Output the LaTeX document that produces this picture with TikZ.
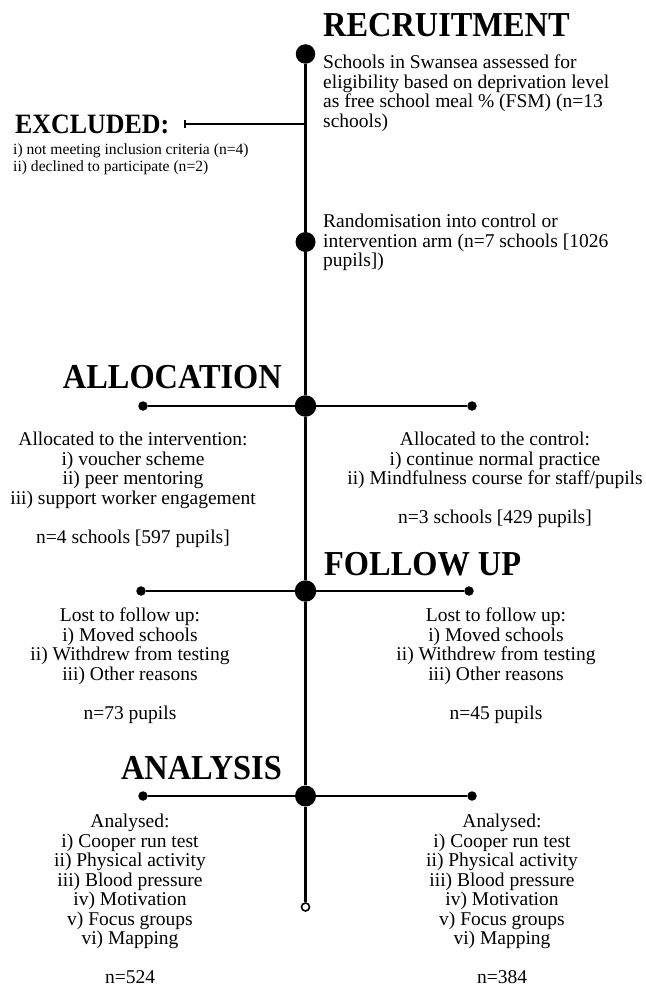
\documentclass[tikz,border=0pt]{standalone}
\usepackage{fontspec}
\setmainfont{Liberation Serif}
\newfontfamily\headfont[FakeStretch=0.925]{Liberation Serif Bold}
\begin{document}
\begin{tikzpicture}[x=1pt,y=-1pt,
  stage/.style={font=\headfont\fontsize{35}{35}\selectfont, inner sep=0pt},
  body/.style={font=\fontsize{19.5}{19.5}\selectfont, inner sep=0pt},
  smallbody/.style={font=\fontsize{15.6}{17}\selectfont, inner sep=0pt, align=left},
  bigdot/.style={circle, fill=black, inner sep=0pt, minimum size=21.5pt},
  enddot/.style={circle, fill=black, inner sep=0pt, minimum size=9.5pt},
  opendot/.style={circle, draw=black, fill=white, line width=1.6pt, inner sep=0pt, minimum size=8pt},
  trunk/.style={line width=2.5pt},
  branch/.style={line width=2.5pt}]
\useasboundingbox (0,0) rectangle (645,987);

% timeline dots
\node[bigdot, minimum size=19.5pt] (rec) at (305.5,54) {};
\node[bigdot, minimum size=20pt] (rand) at (305.5,242) {};
\node[bigdot] (alloc) at (305.5,406) {};
\node[bigdot] (follow) at (305.5,591) {};
\node[bigdot, minimum size=21pt] (anal) at (305.5,796) {};
\node[opendot] (stop) at (305.5,907) {};
\coordinate (excl) at (305.5,124);

% side ends of the branches
\node[enddot] (allocL) at (143,406) {};
\node[enddot] (allocR) at (472,406) {};
\node[enddot] (followL) at (141,591) {};
\node[enddot] (followR) at (469,591) {};
\node[enddot] (analL) at (143,796) {};
\node[enddot] (analR) at (472,796) {};
\coordinate (exclEnd) at (185,124);

% trunk
\draw[trunk] (rec) -- (rand) -- (alloc) -- (follow) -- (anal) -- (stop);
% branches
\draw[branch] (excl) -- (exclEnd);
\draw[line width=1.8pt] ([yshift=-4pt]exclEnd) -- ([yshift=4pt]exclEnd);
\draw[branch] (allocL) -- (alloc) -- (allocR);
\draw[branch] (followL) -- (follow) -- (followR);
\draw[branch] (analL) -- (anal) -- (analR);

% stage headings
\node[stage, anchor=west] (hrec) at (323,25) {RECRUITMENT};
\node[stage, anchor=east] (halloc) at (282,377) {ALLOCATION};
\node[stage, anchor=west] (hfollow) at (324,564) {FOLLOW UP};
\node[stage, anchor=east] (hanal) at (282,768) {ANALYSIS};
\node[font=\headfont\fontsize{28}{28}\selectfont, inner sep=0pt, anchor=west] (hexcl) at (15,124) {EXCLUDED:};

% recruitment texts
\node[body, anchor=north west, align=left] (trec) at (323,55)
  {Schools in Swansea assessed for\\eligibility based on deprivation level\\as free school meal \% (FSM) (n=13\\schools)};
\node[smallbody, anchor=north west] (texcl) at (13,143)
  {i) not meeting inclusion criteria (n=4)\\ii) declined to participate (n=2)};
\node[body, anchor=north west, align=left] (trand) at (323,214)
  {Randomisation into control or\\intervention arm (n=7 schools [1026\\pupils])};

% allocation texts
\node[body, anchor=north, align=center] (tallocL) at (133,432)
  {Allocated to the intervention:\\i) voucher scheme\\ii) peer mentoring\\iii) support worker engagement\\[19.5pt]n=4 schools [597 pupils]};
\node[body, anchor=north, align=center] (tallocR) at (495,432)
  {Allocated to the control:\\i) continue normal practice\\ii) Mindfulness course for staff/pupils\\[19.5pt]n=3 schools [429 pupils]};

% follow-up texts
\node[body, anchor=north, align=center] (tfollowL) at (130,608)
  {Lost to follow up:\\i) Moved schools\\ii) Withdrew from testing\\iii) Other reasons\\[19.5pt]n=73 pupils};
\node[body, anchor=north, align=center] (tfollowR) at (496,608)
  {Lost to follow up:\\i) Moved schools\\ii) Withdrew from testing\\iii) Other reasons\\[19.5pt]n=45 pupils};

% analysis texts
\node[body, anchor=north, align=center] (tanalL) at (130,814)
  {Analysed:\\i) Cooper run test\\ii) Physical activity\\iii) Blood pressure\\iv) Motivation\\v) Focus groups\\vi) Mapping\\[19.5pt]n=524};
\node[body, anchor=north, align=center] (tanalR) at (502,814)
  {Analysed:\\i) Cooper run test\\ii) Physical activity\\iii) Blood pressure\\iv) Motivation\\v) Focus groups\\vi) Mapping\\[19.5pt]n=384};
\end{tikzpicture}
\end{document}
